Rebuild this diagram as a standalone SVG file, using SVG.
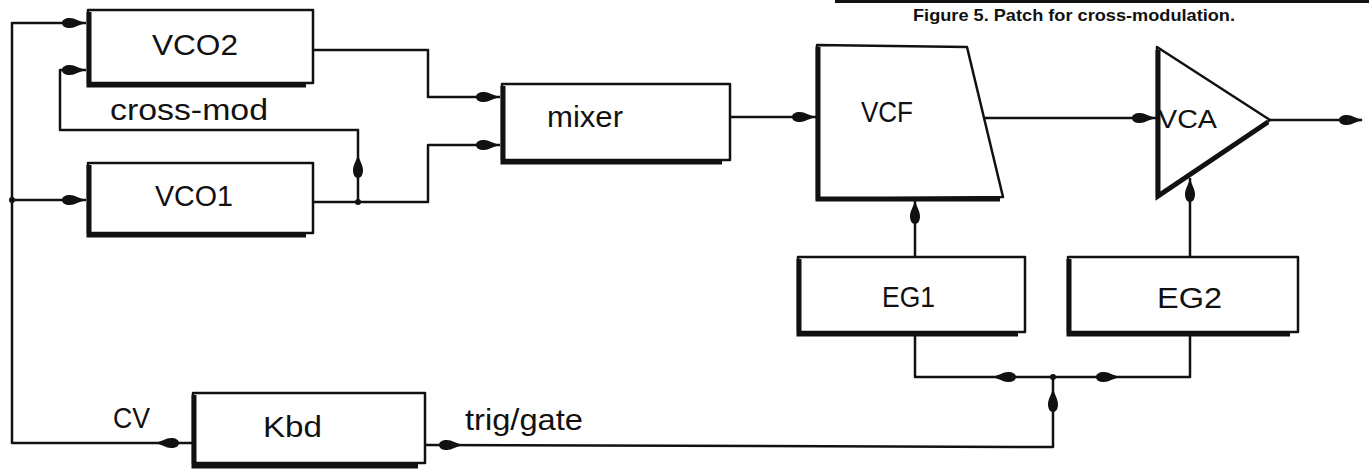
<svg xmlns="http://www.w3.org/2000/svg" xmlns:xlink="http://www.w3.org/1999/xlink" width="1369" height="473" viewBox="0 0 1369 473">
<style>
.box{fill:#fff;stroke:#111;stroke-width:2.5;stroke-linejoin:round}
.sh{fill:none;stroke:#111;stroke-width:5;stroke-linejoin:miter}
.ln{fill:none;stroke:#111;stroke-width:2.5;stroke-linejoin:round}
.ah{fill:#111}
.lbl{font-family:"Liberation Sans",Arial,sans-serif;font-size:29px;fill:#111}
.cap{font-family:"Liberation Sans",Arial,sans-serif;font-size:16.5px;font-weight:bold;fill:#111}
.dot{fill:#111}
</style>
<defs>
<path id="ah" d="M0,0 C-7,-1.5 -11,-5 -16,-5 C-21,-5 -24,-3 -24,0 C-24,3 -21,5 -16,5 C-11,5 -7,1.5 0,0 Z"/>
</defs>
<rect x="0" y="0" width="1369" height="473" fill="#fff"/>
<rect x="835" y="0" width="534" height="3" fill="#111"/>
<text class="cap" x="913" y="21" textLength="322" lengthAdjust="spacingAndGlyphs">Figure 5. Patch for cross-modulation.</text>

<g id="connectors">
  <path class="ln" d="M193,443 H12 V23 H86"/>
  <path class="ln" d="M12,200 H86"/>
  <path class="ln" d="M86,70 H60 V130 H358 V202"/>
  <path class="ln" d="M313,202 H428 V145 H500"/>
  <path class="ln" d="M313,50 H428 V97 H500"/>
  <path class="ln" d="M730,117 H817"/>
  <path class="ln" d="M985,118 H1157"/>
  <path class="ln" d="M1270,120 H1362"/>
  <path class="ln" d="M915,257 V200"/>
  <path class="ln" d="M1190,257 V178"/>
  <path class="ln" d="M425,445 L1053,447 V377"/>
  <path class="ln" d="M915,334 V377 H1190 V334"/>

  <circle class="dot" cx="12" cy="200" r="3"/>
  <circle class="dot" cx="358" cy="202" r="3"/>
  <circle class="dot" cx="1053" cy="377" r="3"/>

  <use class="ah" xlink:href="#ah" transform="translate(86,23)"/>
  <use class="ah" xlink:href="#ah" transform="translate(86,70)"/>
  <use class="ah" xlink:href="#ah" transform="translate(86,200)"/>
  <use class="ah" xlink:href="#ah" transform="translate(358,154) rotate(-90)"/>
  <use class="ah" xlink:href="#ah" transform="translate(500,97)"/>
  <use class="ah" xlink:href="#ah" transform="translate(500,145)"/>
  <use class="ah" xlink:href="#ah" transform="translate(816,117)"/>
  <use class="ah" xlink:href="#ah" transform="translate(1156,118)"/>
  <use class="ah" xlink:href="#ah" transform="translate(1363,120)"/>
  <use class="ah" xlink:href="#ah" transform="translate(915,200) rotate(-90)"/>
  <use class="ah" xlink:href="#ah" transform="translate(1190,178) rotate(-90)"/>
  <use class="ah" xlink:href="#ah" transform="translate(992,377) rotate(180)"/>
  <use class="ah" xlink:href="#ah" transform="translate(1120,377)"/>
  <use class="ah" xlink:href="#ah" transform="translate(1053,388) rotate(-90)"/>
  <use class="ah" xlink:href="#ah" transform="translate(155,443) rotate(180)"/>
  <use class="ah" xlink:href="#ah" transform="translate(463,445)"/>
</g>

<g id="vco2">
  <rect class="box" x="88" y="10" width="225" height="73"/>
  <path class="sh" d="M89,12 V85 H306"/>
  <text class="lbl" x="152" y="55" textLength="86" lengthAdjust="spacingAndGlyphs">VCO2</text>
</g>
<g id="vco1">
  <rect class="box" x="88" y="163" width="225" height="70"/>
  <path class="sh" d="M89,165 V235 H306"/>
  <text class="lbl" x="155" y="206" textLength="78" lengthAdjust="spacingAndGlyphs">VCO1</text>
</g>
<text class="lbl" x="110" y="120" textLength="158" lengthAdjust="spacingAndGlyphs">cross-mod</text>
<g id="mixer">
  <rect class="box" x="502" y="84" width="228" height="76"/>
  <path class="sh" d="M503,86 V162 H722"/>
  <text class="lbl" x="547" y="127" textLength="76" lengthAdjust="spacingAndGlyphs">mixer</text>
</g>
<g id="vcf">
  <path class="box" d="M817,45 L967,47 L1003,197 L817,199 Z"/>
  <path class="sh" d="M818,47 V199 H1000"/>
  <text class="lbl" x="861" y="122" textLength="52" lengthAdjust="spacingAndGlyphs">VCF</text>
</g>
<g id="vca">
  <path class="box" d="M1157,47 L1270,120 L1157,197 Z"/>
  <path class="sh" d="M1158,50 V196 L1268,122"/>
  <text class="lbl" x="1158" y="128" textLength="59" lengthAdjust="spacingAndGlyphs" style="font-size:26px">VCA</text>
</g>
<g id="eg1">
  <rect class="box" x="798" y="257" width="227" height="75"/>
  <path class="sh" d="M799,259 V334 H1018"/>
  <text class="lbl" x="882" y="307" textLength="53" lengthAdjust="spacingAndGlyphs">EG1</text>
</g>
<g id="eg2">
  <rect class="box" x="1068" y="257" width="230" height="75"/>
  <path class="sh" d="M1069,259 V334 H1290"/>
  <text class="lbl" x="1157" y="308" textLength="65" lengthAdjust="spacingAndGlyphs">EG2</text>
</g>
<g id="kbd">
  <rect class="box" x="193" y="393" width="232" height="70"/>
  <path class="sh" d="M194,395 V466 H418"/>
  <text class="lbl" x="263" y="437" textLength="59" lengthAdjust="spacingAndGlyphs">Kbd</text>
</g>
<text class="lbl" x="113" y="428" textLength="37" lengthAdjust="spacingAndGlyphs">CV</text>
<text class="lbl" x="465" y="430" textLength="118" lengthAdjust="spacingAndGlyphs">trig/gate</text>
</svg>
